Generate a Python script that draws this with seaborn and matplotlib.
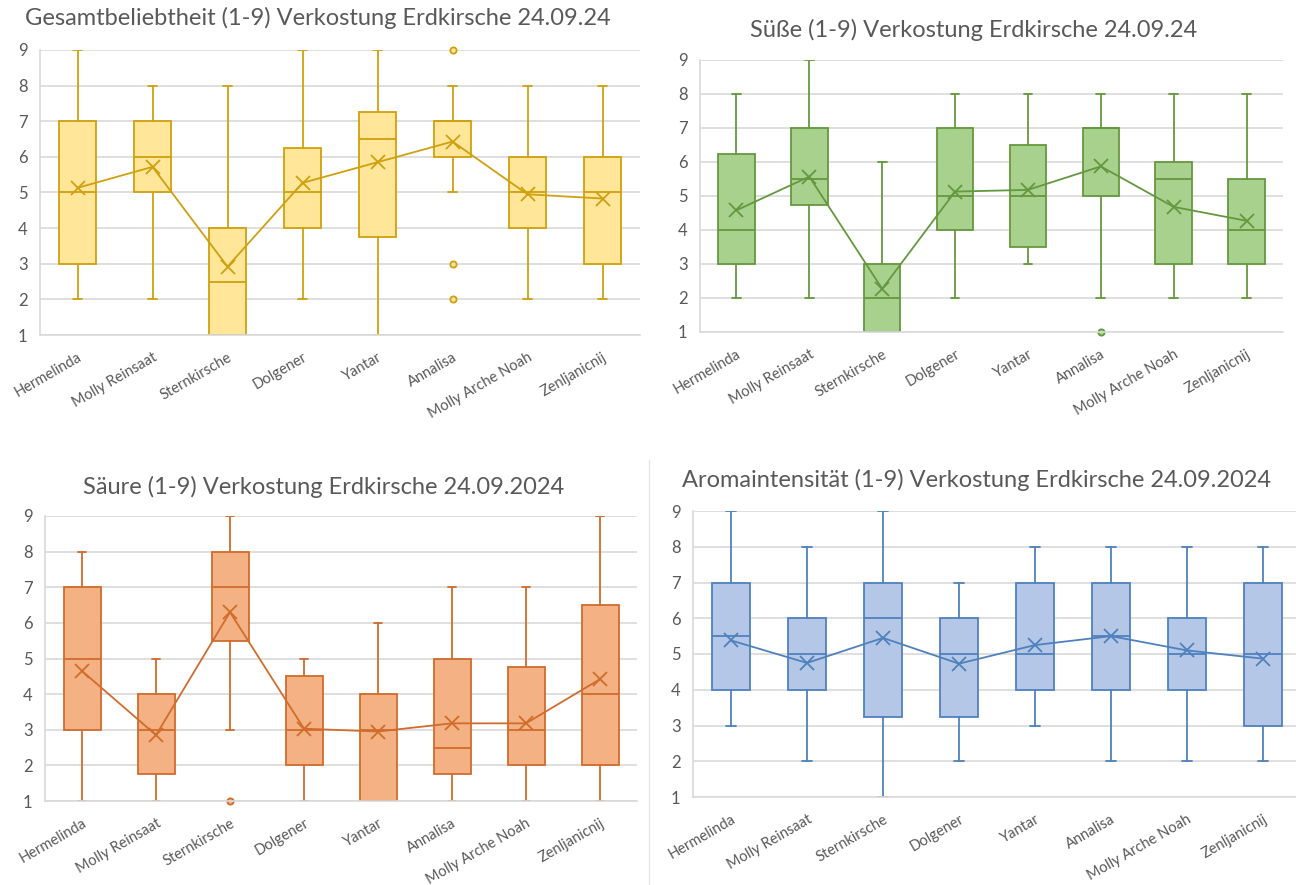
import numpy as np
import matplotlib
matplotlib.use("Agg")
import matplotlib.pyplot as plt
from matplotlib.lines import Line2D
import seaborn as sns

# ---------------- data ----------------
categories = ["Hermelinda", "Molly Reinsaat", "Sternkirsche", "Dolgener",
              "Yantar", "Annalisa", "Molly Arche Noah", "Zenljanicnij"]

# Gesamtbeliebtheit
gesamt_min = [2, 2, 1, 2, 1, 5, 2, 2]
gesamt_q1 = [3, 5, 1, 4, 3.75, 6, 4, 3]
gesamt_med = [5, 6, 2.5, 5, 6.5, 7, 5, 5]
gesamt_q3 = [7, 7, 4, 6.25, 7.25, 7, 6, 6]
gesamt_max = [9, 8, 8, 9, 9, 8, 8, 8]
gesamt_mean = [5.13, 5.72, 2.92, 5.27, 5.85, 6.43, 4.95, 4.83]
gesamt_out = [[], [], [], [], [], [9, 3, 2], [], []]

# Süße
suesse_min = [2, 2, 1, 2, 3, 2, 2, 2]
suesse_q1 = [3, 4.75, 1, 4, 3.5, 5, 3, 3]
suesse_med = [4, 5.5, 2, 5, 5, 7, 5.5, 4]
suesse_q3 = [6.25, 7, 3, 7, 6.5, 7, 6, 5.5]
suesse_max = [8, 9, 6, 8, 8, 8, 8, 8]
suesse_mean = [4.58, 5.57, 2.27, 5.13, 5.18, 5.87, 4.68, 4.27]
suesse_out = [[], [], [], [], [], [1], [], []]

# Säure
saeure_min = [1, 1, 3, 1, 1, 1, 1, 1]
saeure_q1 = [3, 1.75, 5.5, 2, 1, 1.75, 2, 2]
saeure_med = [5, 3, 7, 3, 3, 2.5, 3, 4]
saeure_q3 = [7, 4, 8, 4.5, 4, 5, 4.75, 6.5]
saeure_max = [8, 5, 9, 5, 6, 7, 7, 9]
saeure_mean = [4.65, 2.85, 6.3, 3.03, 2.95, 3.18, 3.18, 4.42]
saeure_out = [[], [], [1], [], [], [], [], []]

# Aromaintensität
aroma_min = [3, 2, 1, 2, 3, 2, 2, 2]
aroma_q1 = [4, 4, 3.25, 3.25, 4, 4, 4, 3]
aroma_med = [5.5, 5, 6, 5, 5, 5.5, 5, 5]
aroma_q3 = [7, 6, 7, 6, 7, 7, 6, 7]
aroma_max = [9, 8, 9, 7, 8, 8, 8, 8]
aroma_mean = [5.38, 4.75, 5.45, 4.73, 5.25, 5.5, 5.1, 4.87]
aroma_out = [[], [], [], [], [], [], [], []]

yticks = [1, 2, 3, 4, 5, 6, 7, 8, 9]

titles = ["Gesamtbeliebtheit (1-9) Verkostung Erdkirsche 24.09.24",
          "Süße (1-9) Verkostung Erdkirsche 24.09.24",
          "Säure (1-9) Verkostung Erdkirsche 24.09.2024",
          "Aromaintensität (1-9) Verkostung Erdkirsche 24.09.2024"]

# ---------------- style ----------------
sns.set_theme(style="white")
plt.rcParams["font.family"] = ["Lato", "DejaVu Sans"]
TXT = "#595959"
GRID = "#D9D9D9"

W, H = 1296, 885
fig = plt.figure(figsize=(W / 100, H / 100), dpi=100)
fig.patch.set_facecolor("white")


def px_axes(x0, x1, ytop, ybot):
    return fig.add_axes([x0 / W, 1 - ybot / H, (x1 - x0) / W, (ybot - ytop) / H])


panels = [
    dict(box=(40, 640, 50, 335), title=(318, 18),
         stats=(gesamt_min, gesamt_q1, gesamt_med, gesamt_q3, gesamt_max, gesamt_mean, gesamt_out),
         edge="#CFA00F", fill="#FFE699"),
    dict(box=(700, 1283, 60, 332), title=(974, 30),
         stats=(suesse_min, suesse_q1, suesse_med, suesse_q3, suesse_max, suesse_mean, suesse_out),
         edge="#64983E", fill="#A9D18E"),
    dict(box=(45, 637, 516, 801), title=(324, 487),
         stats=(saeure_min, saeure_q1, saeure_med, saeure_q3, saeure_max, saeure_mean, saeure_out),
         edge="#D06C2C", fill="#F4B183"),
    dict(box=(693, 1301, 511, 797), title=(977, 480),
         stats=(aroma_min, aroma_q1, aroma_med, aroma_q3, aroma_max, aroma_mean, aroma_out),
         edge="#4F81BD", fill="#B4C7E7"),
]

pos = np.arange(len(categories))

for p, title in zip(panels, titles):
    ax = px_axes(*p["box"])
    mn, q1, med, q3, mx, mean, out = p["stats"]
    edge, fill = p["edge"], p["fill"]
    bstats = []
    for i in range(len(categories)):
        bstats.append(dict(whislo=mn[i], q1=q1[i], med=med[i], q3=q3[i],
                           whishi=mx[i], fliers=out[i], label=categories[i]))
    lw = 1.3
    ax.bxp(bstats, positions=pos, widths=0.5, capwidths=0.12, patch_artist=True,
           showmeans=False, manage_ticks=False,
           boxprops=dict(facecolor=fill, edgecolor=edge, linewidth=lw),
           medianprops=dict(color=edge, linewidth=lw),
           whiskerprops=dict(color=edge, linewidth=lw),
           capprops=dict(color=edge, linewidth=lw),
           flierprops=dict(marker="o", markersize=4.5, markerfacecolor=fill,
                           markeredgecolor=edge, markeredgewidth=1.3, clip_on=False))
    sns.lineplot(x=pos, y=mean, ax=ax, color=edge, linewidth=lw, marker="x",
                 markersize=10, markeredgewidth=1.3, markeredgecolor=edge,
                 clip_on=False, zorder=5)

    ax.set_xlim(-0.5, len(categories) - 0.5)
    ax.set_ylim(1, 9)
    ax.set_yticks(yticks)
    ax.set_yticklabels([str(v) for v in yticks])
    ax.set_xticks(pos)
    ax.set_xticklabels(categories, rotation=30, ha="right", rotation_mode="anchor")
    ax.tick_params(axis="x", length=0, pad=11, labelsize=10.5, labelcolor=TXT)
    ax.tick_params(axis="y", length=0, pad=9, labelsize=12, labelcolor=TXT)
    ax.grid(axis="y", color=GRID, linewidth=1.2)
    ax.set_axisbelow(True)
    for s in ["top", "right"]:
        ax.spines[s].set_visible(False)
    ax.spines["left"].set_color(GRID)
    ax.spines["bottom"].set_color(GRID)
    ax.spines["left"].set_linewidth(1.2)
    ax.spines["bottom"].set_linewidth(1.2)
    ax.set_xlabel("")
    ax.set_ylabel("")
    ax.set_facecolor("white")

    tx, ty = p["title"]
    fig.text(tx / W, 1 - ty / H, title, ha="center", va="center",
             fontsize=17, color=TXT)

# faint chart border between bottom panels
fig.add_artist(Line2D([649 / W, 649 / W], [0, 1 - 460 / H], color="#E6E6E6", linewidth=1))

fig.savefig("out.png", dpi=100, facecolor="white")
